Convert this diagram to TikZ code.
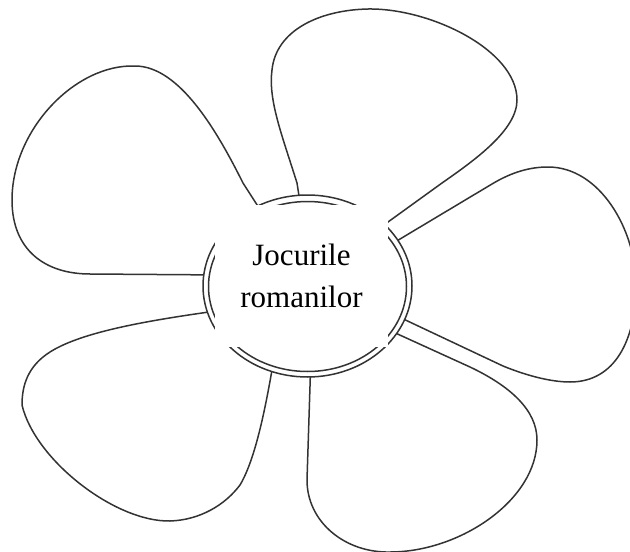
\documentclass[tikz,border=0pt]{standalone}
\usepackage{fontspec}
\setmainfont{Liberation Serif}
\usepackage{tikz}
\definecolor{PetalInk}{gray}{0.2}

\begin{document}
\begin{tikzpicture}[
  x=1pt,y=-1pt,
  petal/.style={draw=PetalInk,line width=1.5pt,fill=white,line join=round},
  ring/.style={draw=PetalInk,line width=1.5pt},
  label/.style={fill=white,inner sep=0pt,align=center,minimum width=173pt,
                minimum height=142pt,font=\fontsize{31}{42}\selectfont},
]
  \useasboundingbox (0,0) rectangle (630,552);

  \draw[petal] (225,275) -- (90,274) .. controls (45,274) and (12,250) .. (12,200)
    .. controls (12,130) and (75,64) .. (135,66)
    .. controls (180,66) and (218,133) .. (243,183) -- (270,225) -- cycle;
  \draw[petal] (302,215) -- (297,183) .. controls (282,135) and (268,100) .. (272,70)
    .. controls (276,30) and (320,10) .. (368,9)
    .. controls (430,8) and (517,50) .. (517,100)
    .. controls (517,130) and (475,160) .. (442,183) -- (370,235) -- cycle;
  \draw[petal] (380,251) -- (492,184) .. controls (512,172) and (530,167) .. (548,167)
    .. controls (600,167) and (636,230) .. (636,285)
    .. controls (636,340) and (615,382) .. (570,382)
    .. controls (550,382) and (525,375) .. (503,366) -- (380,308) -- cycle;
  \draw[petal] (311,355) -- (307,480) .. controls (307,522) and (345,553) .. (390,552)
    .. controls (460,552) and (537,500) .. (537,440)
    .. controls (537,410) and (510,386) .. (470,367) -- (380,326) -- cycle;
  \draw[petal] (230,309) -- (202,313) .. controls (140,322) and (80,333) .. (50,352)
    .. controls (28,366) and (22,385) .. (22,405)
    .. controls (35,460) and (115,522) .. (170,521)
    .. controls (200,520) and (225,505) .. (240,485)
    .. controls (255,460) and (265,410) .. (272,370) -- (277,353) -- cycle;

  \draw[ring,fill=white] (307.5,286) ellipse [x radius=104.5,y radius=91];
  \draw[ring] (307.5,286.5) ellipse [x radius=99,y radius=85];

  \node[label] (title) at (301.5,276) {Jocurile\\romanilor};
\end{tikzpicture}
\end{document}
